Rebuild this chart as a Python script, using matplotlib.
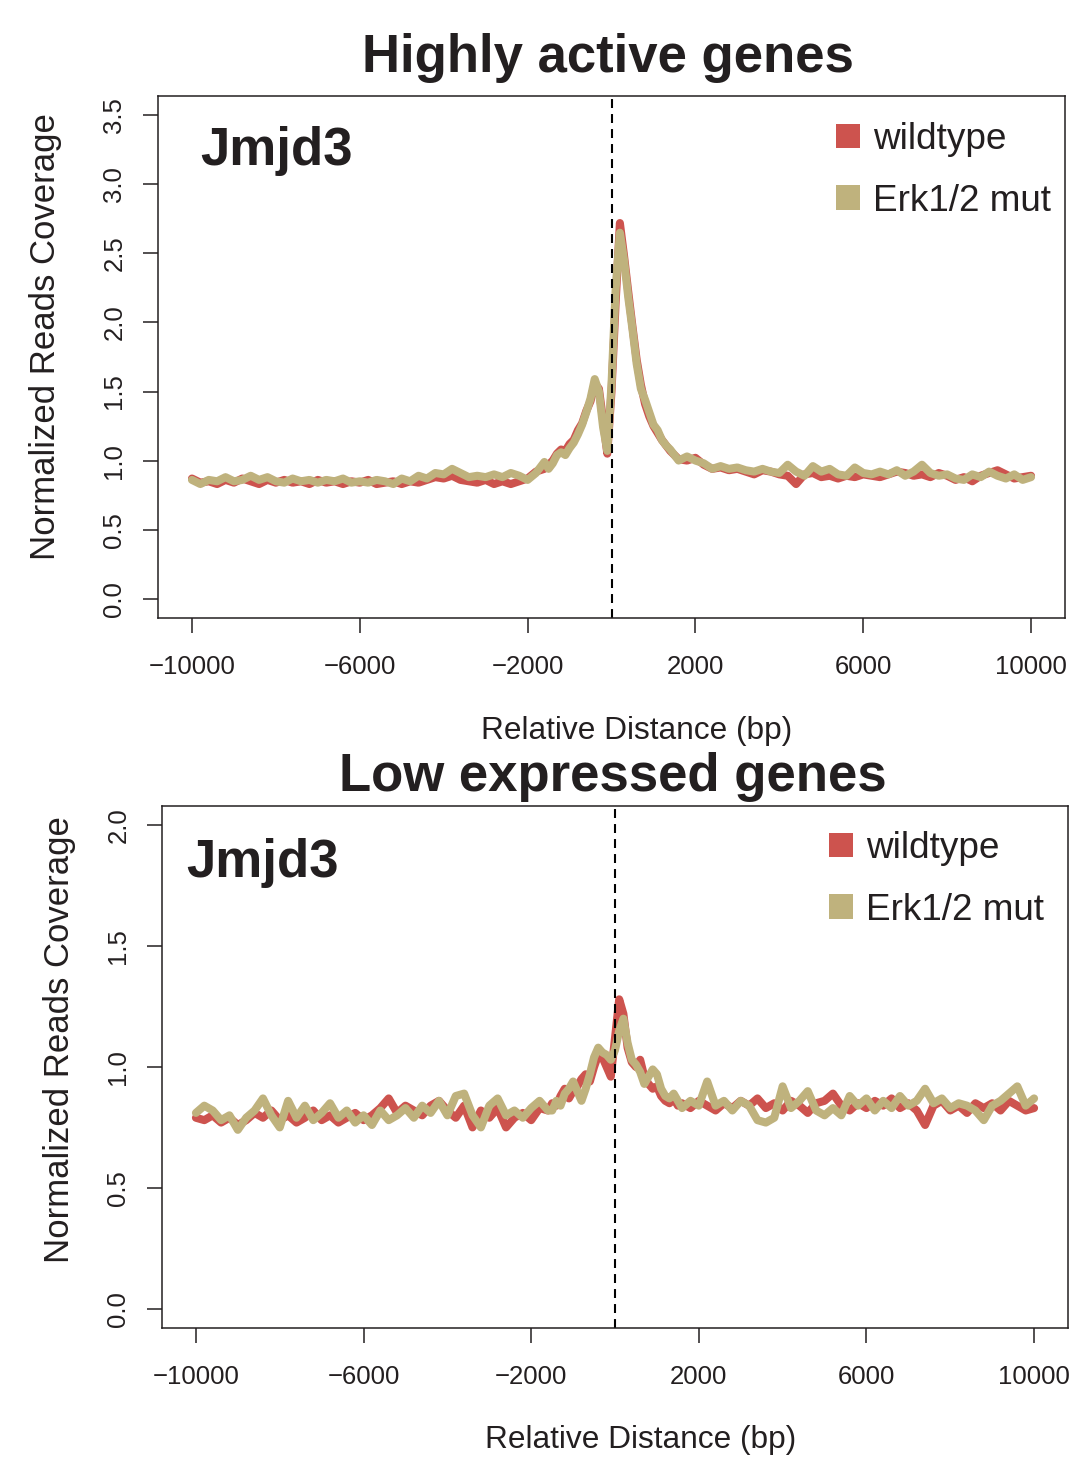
import numpy as np
import matplotlib
matplotlib.use("Agg")
import matplotlib.pyplot as plt
from matplotlib.patches import Patch
from matplotlib.ticker import FormatStrFormatter

plt.rcParams["font.family"] = ["Liberation Sans", "DejaVu Sans"]

# distance from TSS (bp): coarse on the flanks, finer around the centre
dist = np.concatenate([
    np.arange(-10000, -1599, 200),
    np.arange(-1500, 1501, 100),
    np.arange(1600, 10001, 200),
])

# ---- highly active genes ----
top_wt = [
    0.87, 0.84, 0.85, 0.83, 0.86, 0.84, 0.87, 0.85, 0.83, 0.86,
    0.84, 0.86, 0.84, 0.85, 0.83, 0.86, 0.84, 0.85, 0.83, 0.85,
    0.84, 0.86, 0.83, 0.84, 0.85, 0.83, 0.85, 0.84, 0.86, 0.88,
    0.87, 0.89, 0.86, 0.85, 0.84, 0.86, 0.83, 0.85, 0.83, 0.85,
    0.87, 0.92, 0.94,
    # centre
    0.97, 1.00, 1.05, 1.08, 1.07, 1.12, 1.15, 1.22, 1.27, 1.36,
    1.43, 1.56, 1.52, 1.29, 1.05, 1.50, 2.15, 2.72, 2.48, 2.22,
    1.97, 1.73, 1.55, 1.41, 1.32, 1.25, 1.20, 1.15, 1.11, 1.07,
    1.04,
    # right
    1.01, 1.00, 1.02, 0.97, 0.94, 0.95, 0.93, 0.94, 0.92, 0.90,
    0.93, 0.92, 0.90, 0.89, 0.83, 0.90, 0.91, 0.88, 0.89, 0.87,
    0.89, 0.88, 0.90, 0.89, 0.88, 0.90, 0.92, 0.91, 0.89, 0.90,
    0.88, 0.91, 0.89, 0.86, 0.88, 0.85, 0.89, 0.91, 0.93, 0.90,
    0.87, 0.88, 0.89,
]
top_erk = [
    0.86, 0.83, 0.86, 0.85, 0.88, 0.85, 0.86, 0.89, 0.86, 0.88,
    0.85, 0.84, 0.87, 0.85, 0.86, 0.84, 0.86, 0.85, 0.87, 0.84,
    0.85, 0.84, 0.86, 0.85, 0.83, 0.87, 0.85, 0.89, 0.87, 0.91,
    0.90, 0.94, 0.91, 0.88, 0.89, 0.88, 0.90, 0.88, 0.91, 0.89,
    0.86, 0.91, 0.99,
    # centre
    0.94, 0.98, 1.04, 1.06, 1.04, 1.09, 1.13, 1.19, 1.26, 1.35,
    1.45, 1.59, 1.50, 1.24, 1.07, 1.55, 2.25, 2.65, 2.45, 2.18,
    1.95, 1.70, 1.52, 1.44, 1.35, 1.26, 1.22, 1.15, 1.11, 1.08,
    1.04,
    # right
    1.00, 1.03, 1.00, 0.98, 0.94, 0.96, 0.94, 0.95, 0.93, 0.92,
    0.94, 0.92, 0.91, 0.97, 0.92, 0.89, 0.96, 0.92, 0.94, 0.90,
    0.89, 0.95, 0.91, 0.90, 0.92, 0.90, 0.93, 0.89, 0.92, 0.97,
    0.91, 0.89, 0.90, 0.87, 0.86, 0.90, 0.88, 0.92, 0.89, 0.87,
    0.90, 0.86, 0.88,
]

# ---- low expressed genes ----
bot_wt = [
    0.79, 0.78, 0.80, 0.77, 0.79, 0.76, 0.78, 0.81, 0.79, 0.82,
    0.78, 0.80, 0.77, 0.79, 0.82, 0.78, 0.80, 0.77, 0.79, 0.81,
    0.78, 0.80, 0.83, 0.87, 0.81, 0.84, 0.82, 0.80, 0.84, 0.86,
    0.82, 0.79, 0.84, 0.75, 0.82, 0.79, 0.83, 0.75, 0.79, 0.81,
    0.78, 0.83, 0.82,
    # centre
    0.85, 0.84, 0.88, 0.91, 0.87, 0.90, 0.92, 0.95, 0.97, 0.94,
    1.00, 1.05, 1.04, 1.00, 0.96, 1.12, 1.28, 1.22, 1.08, 1.02,
    1.00, 1.03, 0.96, 0.93, 0.91, 0.92, 0.88, 0.86, 0.85, 0.87,
    0.84,
    # right
    0.85, 0.83, 0.86, 0.84, 0.82, 0.85, 0.83, 0.86, 0.84, 0.87,
    0.83, 0.85, 0.82, 0.86, 0.84, 0.81, 0.85, 0.86, 0.89, 0.84,
    0.82, 0.85, 0.83, 0.86, 0.84, 0.87, 0.83, 0.85, 0.82, 0.76,
    0.84, 0.86, 0.82, 0.84, 0.81, 0.85, 0.83, 0.85, 0.82, 0.86,
    0.84, 0.82, 0.83,
]
bot_erk = [
    0.81, 0.84, 0.82, 0.78, 0.80, 0.74, 0.79, 0.82, 0.87, 0.80,
    0.75, 0.86, 0.79, 0.84, 0.78, 0.81, 0.85, 0.79, 0.82, 0.77,
    0.80, 0.76, 0.82, 0.78, 0.80, 0.83, 0.79, 0.84, 0.81, 0.86,
    0.80, 0.88, 0.89, 0.80, 0.75, 0.84, 0.87, 0.80, 0.82, 0.79,
    0.83, 0.86, 0.82,
    # centre
    0.82, 0.86, 0.84, 0.89, 0.91, 0.94, 0.90, 0.86, 0.91, 0.97,
    1.04, 1.08, 1.06, 1.05, 1.03, 1.07, 1.15, 1.20, 1.10, 1.03,
    1.01, 0.98, 0.93, 0.96, 0.99, 0.97, 0.91, 0.88, 0.87, 0.89,
    0.86,
    # right
    0.83, 0.86, 0.84, 0.94, 0.84, 0.86, 0.82, 0.86, 0.84, 0.78,
    0.77, 0.79, 0.92, 0.83, 0.86, 0.90, 0.82, 0.80, 0.83, 0.80,
    0.88, 0.84, 0.87, 0.82, 0.86, 0.83, 0.88, 0.84, 0.86, 0.91,
    0.85, 0.87, 0.83, 0.85, 0.84, 0.82, 0.78, 0.84, 0.86, 0.89,
    0.92, 0.84, 0.87,
]

titles = ["Highly active genes", "Low expressed genes"]
labels = ["wildtype", "Erk1/2 mut"]
x_ticks = [-10000, -6000, -2000, 2000, 6000, 10000]
top_yticks = [0.0, 0.5, 1.0, 1.5, 2.0, 2.5, 3.0, 3.5]
bot_yticks = [0.0, 0.5, 1.0, 1.5, 2.0]

C_WT = "#CD534E"
C_ERK = "#BFB27D"
C_TXT = "#231F20"

W, H = 1074, 1459
fig = plt.figure(figsize=(W / 100, H / 100), dpi=100)


def px_axes(left, top, right, bottom):
    return fig.add_axes([left / W, 1 - bottom / H, (right - left) / W, (bottom - top) / H])


def draw_panel(ax, wt, erk, yticks, ymax):
    ax.plot(dist, wt, color=C_WT, lw=5.8, solid_capstyle="round", solid_joinstyle="round")
    ax.plot(dist, erk, color=C_ERK, lw=5.8, solid_capstyle="round", solid_joinstyle="round")
    ax.axvline(0, color="black", lw=1.5, ls=(0, (4.3, 2.9)))
    ax.set_xlim(-10800, 10800)
    ax.set_ylim(-0.04 * ymax, 1.04 * ymax)
    ax.set_xticks(x_ticks)
    ax.set_yticks(yticks)
    ax.yaxis.set_major_formatter(FormatStrFormatter("%.1f"))
    ax.tick_params(axis="both", direction="out", length=11, width=1.1,
                   labelsize=18.5, colors=C_TXT)
    ax.tick_params(axis="x", pad=16)
    ax.tick_params(axis="y", pad=12, labelrotation=90)
    for lab in ax.get_yticklabels():
        lab.set_va("center")
    for s in ax.spines.values():
        s.set_linewidth(1.1)
        s.set_color(C_TXT)


def add_legend(ax, anchor):
    handles = [Patch(facecolor=C_WT, edgecolor="none"),
               Patch(facecolor=C_ERK, edgecolor="none")]
    leg = ax.legend(handles, labels, loc="upper left", bbox_to_anchor=anchor,
                    frameon=False, fontsize=26.6, handlelength=0.65, handleheight=0.65,
                    handletextpad=0.35, labelspacing=0.72, borderpad=0, borderaxespad=0)
    for t in leg.get_texts():
        t.set_color(C_TXT)


# top panel
ax1 = px_axes(158.4, 96, 1064.6, 618)
draw_panel(ax1, top_wt, top_erk, top_yticks, 3.5)
add_legend(ax1, (0.748, 0.950))

# bottom panel
ax2 = px_axes(162.4, 806, 1067.6, 1328)
draw_panel(ax2, bot_wt, bot_erk, bot_yticks, 2.0)
add_legend(ax2, (0.7364, 0.952))


def fig_text(x, y, s, **kw):
    fig.text(x / W, 1 - y / H, s, color=C_TXT, **kw)


fig_text(608, 72, titles[0], fontsize=38, fontweight="bold", ha="center", va="baseline")
fig_text(613, 791, titles[1], fontsize=38, fontweight="bold", ha="center", va="baseline")
fig_text(200, 165, "Jmjd3", fontsize=38, fontweight="bold", va="baseline")
fig_text(186, 877, "Jmjd3", fontsize=38, fontweight="bold", va="baseline")
fig_text(637, 731, "Relative Distance (bp)", fontsize=22.8, ha="center", va="center")
fig_text(641, 1440, "Relative Distance (bp)", fontsize=22.8, ha="center", va="center")
fig_text(46, 337, "Normalized Reads Coverage", fontsize=25, rotation=90, ha="center", va="center")
fig_text(60, 1040, "Normalized Reads Coverage", fontsize=25, rotation=90, ha="center", va="center")

fig.savefig("out.png", dpi=100)
